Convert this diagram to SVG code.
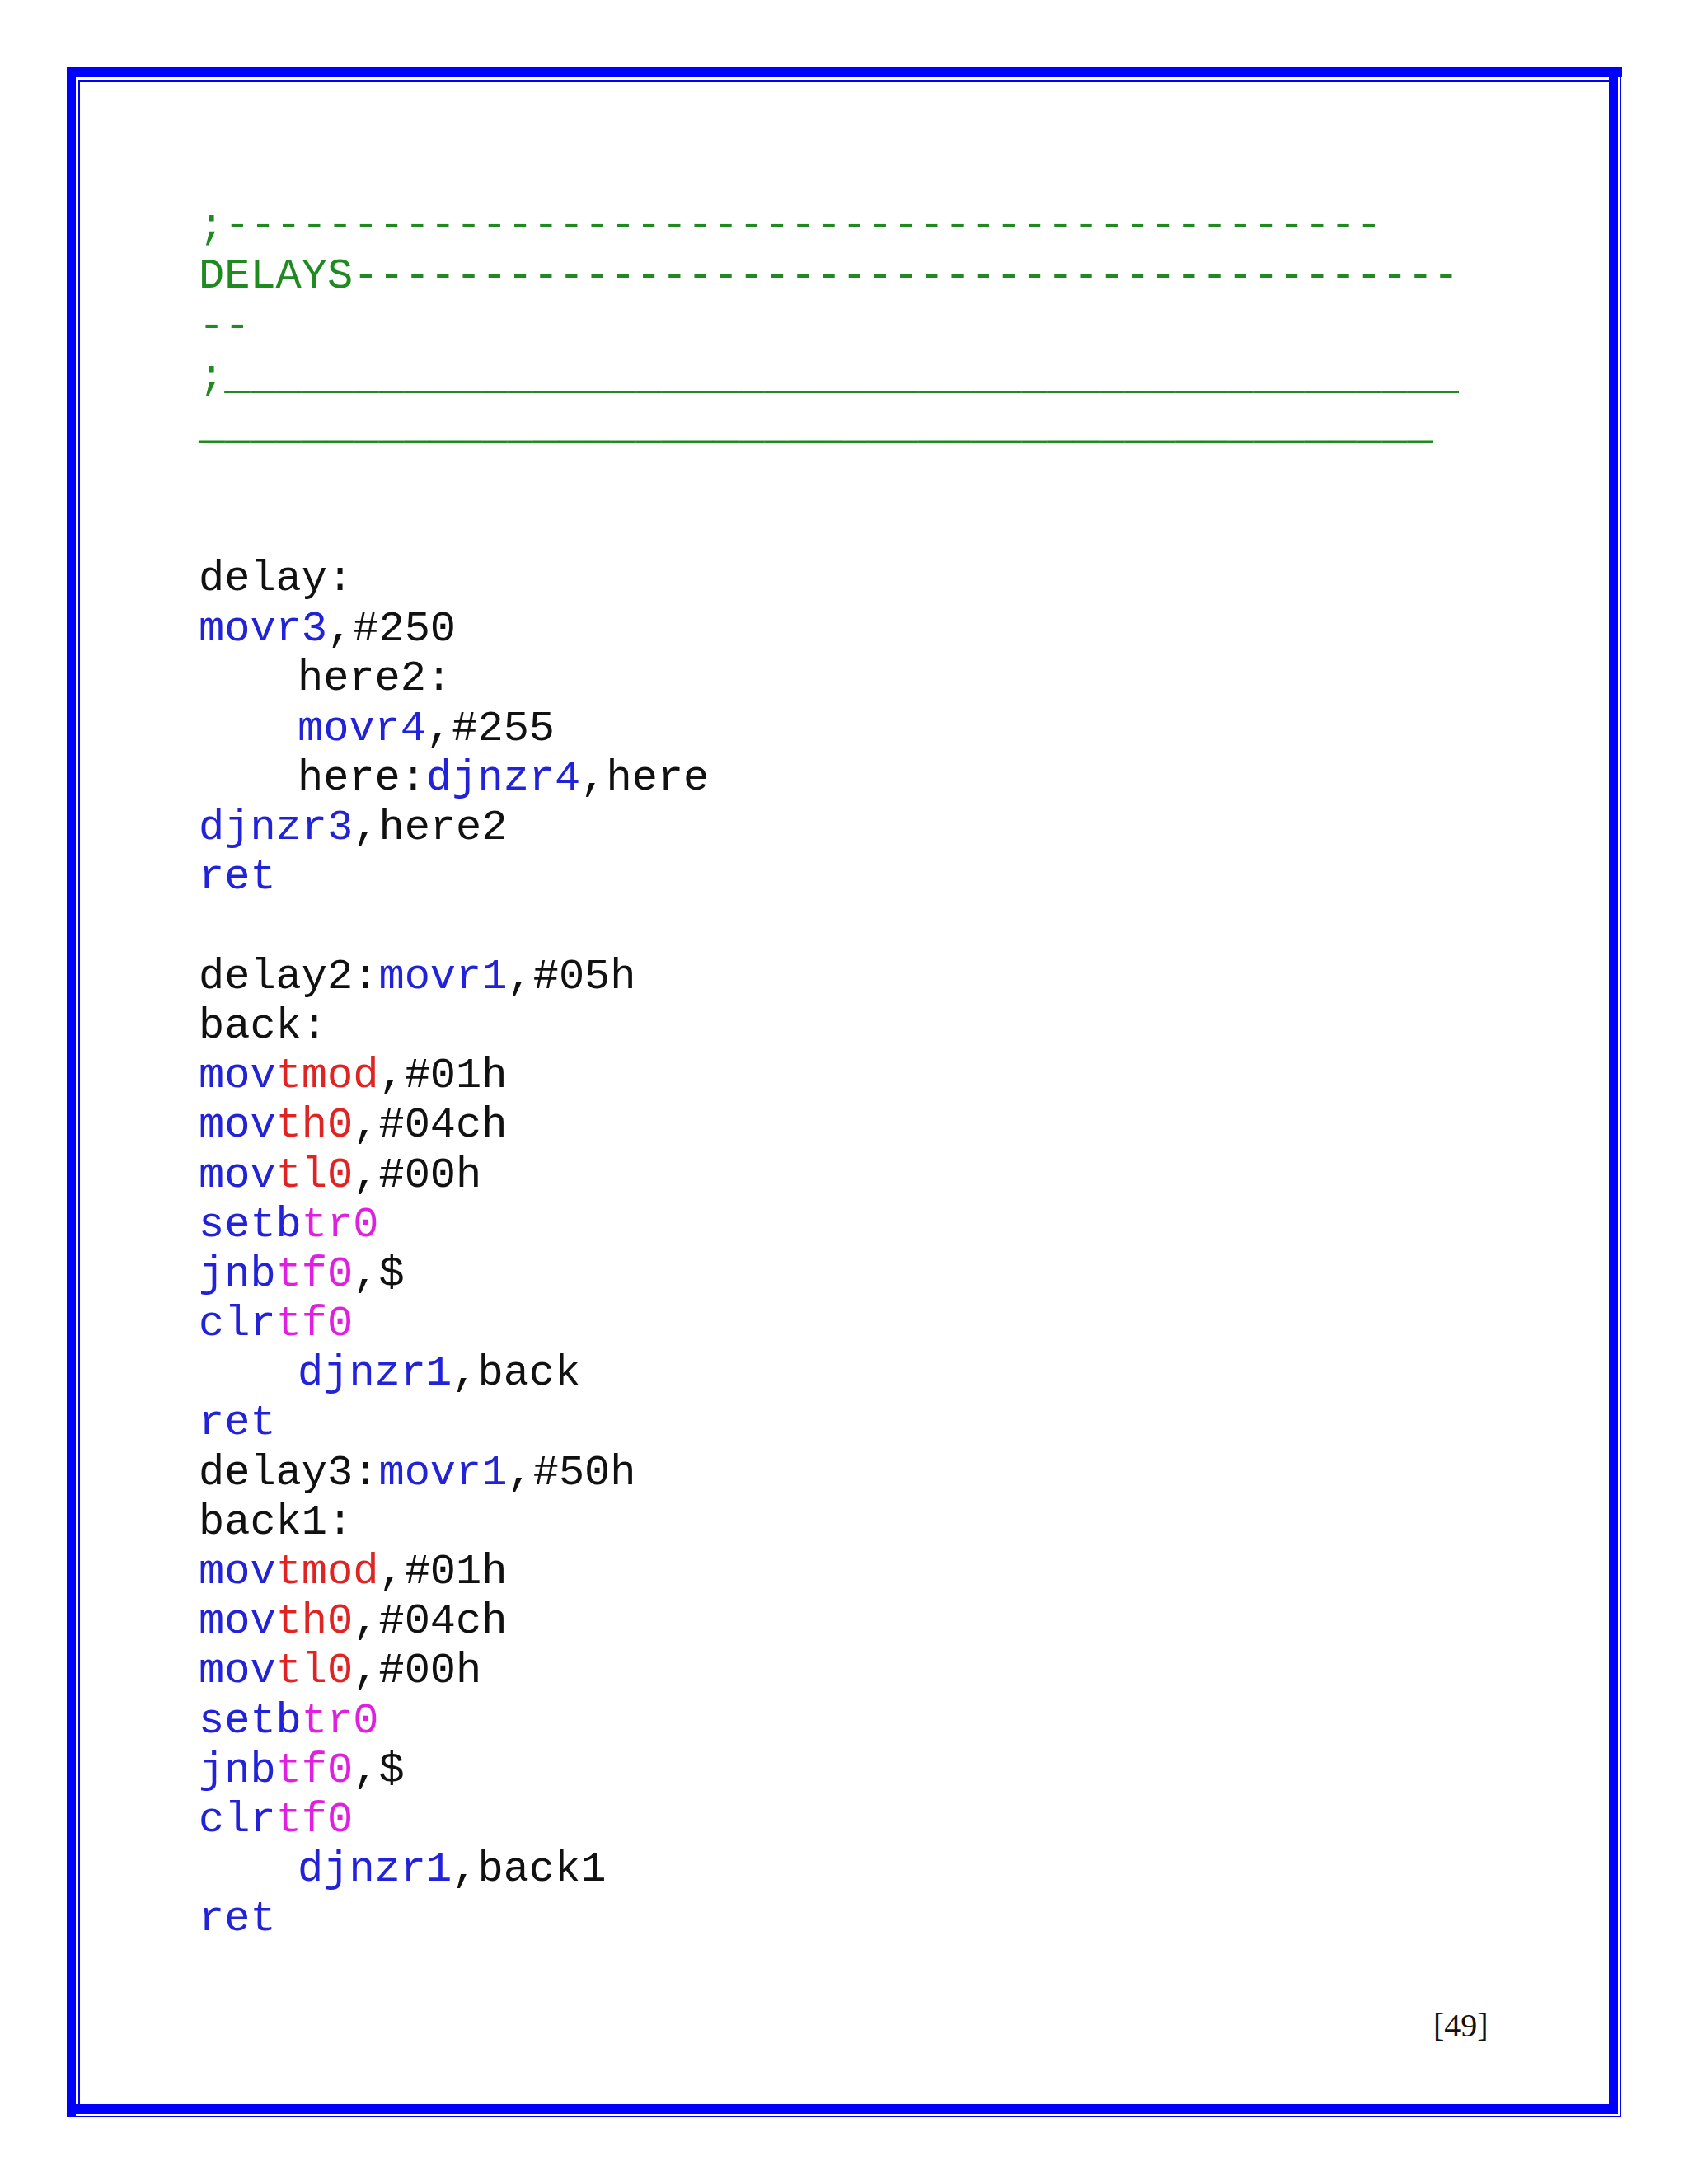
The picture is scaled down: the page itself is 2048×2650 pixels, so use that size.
<svg xmlns="http://www.w3.org/2000/svg" width="2048" height="2650" viewBox="0 0 2048 2650">
<style>
.c{font-family:"Liberation Mono","Courier New",monospace;font-size:52px;fill:#111}
.g{fill:#1f8a1f}.b{fill:#2222d8}.r{fill:#e02424}.m{fill:#e020e0}
.p{font-family:"Liberation Serif","Times New Roman",serif;font-size:40px;fill:#111}
</style>
<rect width="2048" height="2650" fill="#fff"/>
<g id="frame" fill="#0000ff">
<rect x="81" y="81" width="1887" height="12"/>
<rect x="81" y="81" width="11" height="2488"/>
<rect x="1952" y="93" width="11" height="2472"/>
<rect x="92" y="2553" width="1871" height="12"/>
<rect x="95" y="97" width="1857" height="2"/>
<rect x="95" y="97" width="2" height="2456"/>
<rect x="1965" y="82" width="2" height="2487"/>
<rect x="81" y="2567" width="1886" height="2"/>
</g>
<g id="code" class="c">
<text x="241" y="288" class="g">;---------------------------------------------</text>
<text x="241" y="349" class="g">DELAYS-------------------------------------------</text>
<text x="241" y="410" class="g">--</text>
<text x="241" y="471" class="g">;________________________________________________</text>
<text x="241" y="531" class="g">________________________________________________</text>
<text x="241" y="716">delay:</text>
<text x="241" y="777"><tspan class="b">movr3</tspan>,#250</text>
<text x="361" y="837">here2:</text>
<text x="361" y="898"><tspan class="b">movr4</tspan>,#255</text>
<text x="361" y="958">here:<tspan class="b">djnzr4</tspan>,here</text>
<text x="241" y="1018"><tspan class="b">djnzr3</tspan>,here2</text>
<text x="241" y="1078" class="b">ret</text>
<text x="241" y="1199">delay2:<tspan class="b">movr1</tspan>,#05h</text>
<text x="241" y="1259">back:</text>
<text x="241" y="1319"><tspan class="b">mov</tspan><tspan class="r">tmod</tspan>,#01h</text>
<text x="241" y="1379"><tspan class="b">mov</tspan><tspan class="r">th0</tspan>,#04ch</text>
<text x="241" y="1440"><tspan class="b">mov</tspan><tspan class="r">tl0</tspan>,#00h</text>
<text x="241" y="1500"><tspan class="b">setb</tspan><tspan class="m">tr0</tspan></text>
<text x="241" y="1560"><tspan class="b">jnb</tspan><tspan class="m">tf0</tspan>,$</text>
<text x="241" y="1620"><tspan class="b">clr</tspan><tspan class="m">tf0</tspan></text>
<text x="361" y="1680"><tspan class="b">djnzr1</tspan>,back</text>
<text x="241" y="1740" class="b">ret</text>
<text x="241" y="1801">delay3:<tspan class="b">movr1</tspan>,#50h</text>
<text x="241" y="1861">back1:</text>
<text x="241" y="1921"><tspan class="b">mov</tspan><tspan class="r">tmod</tspan>,#01h</text>
<text x="241" y="1981"><tspan class="b">mov</tspan><tspan class="r">th0</tspan>,#04ch</text>
<text x="241" y="2041"><tspan class="b">mov</tspan><tspan class="r">tl0</tspan>,#00h</text>
<text x="241" y="2102"><tspan class="b">setb</tspan><tspan class="m">tr0</tspan></text>
<text x="241" y="2162"><tspan class="b">jnb</tspan><tspan class="m">tf0</tspan>,$</text>
<text x="241" y="2222"><tspan class="b">clr</tspan><tspan class="m">tf0</tspan></text>
<text x="361" y="2282"><tspan class="b">djnzr1</tspan>,back1</text>
<text x="241" y="2342" class="b">ret</text>
</g>
<text id="pagenum" x="1739" y="2471" class="p">[49]</text>
</svg>
